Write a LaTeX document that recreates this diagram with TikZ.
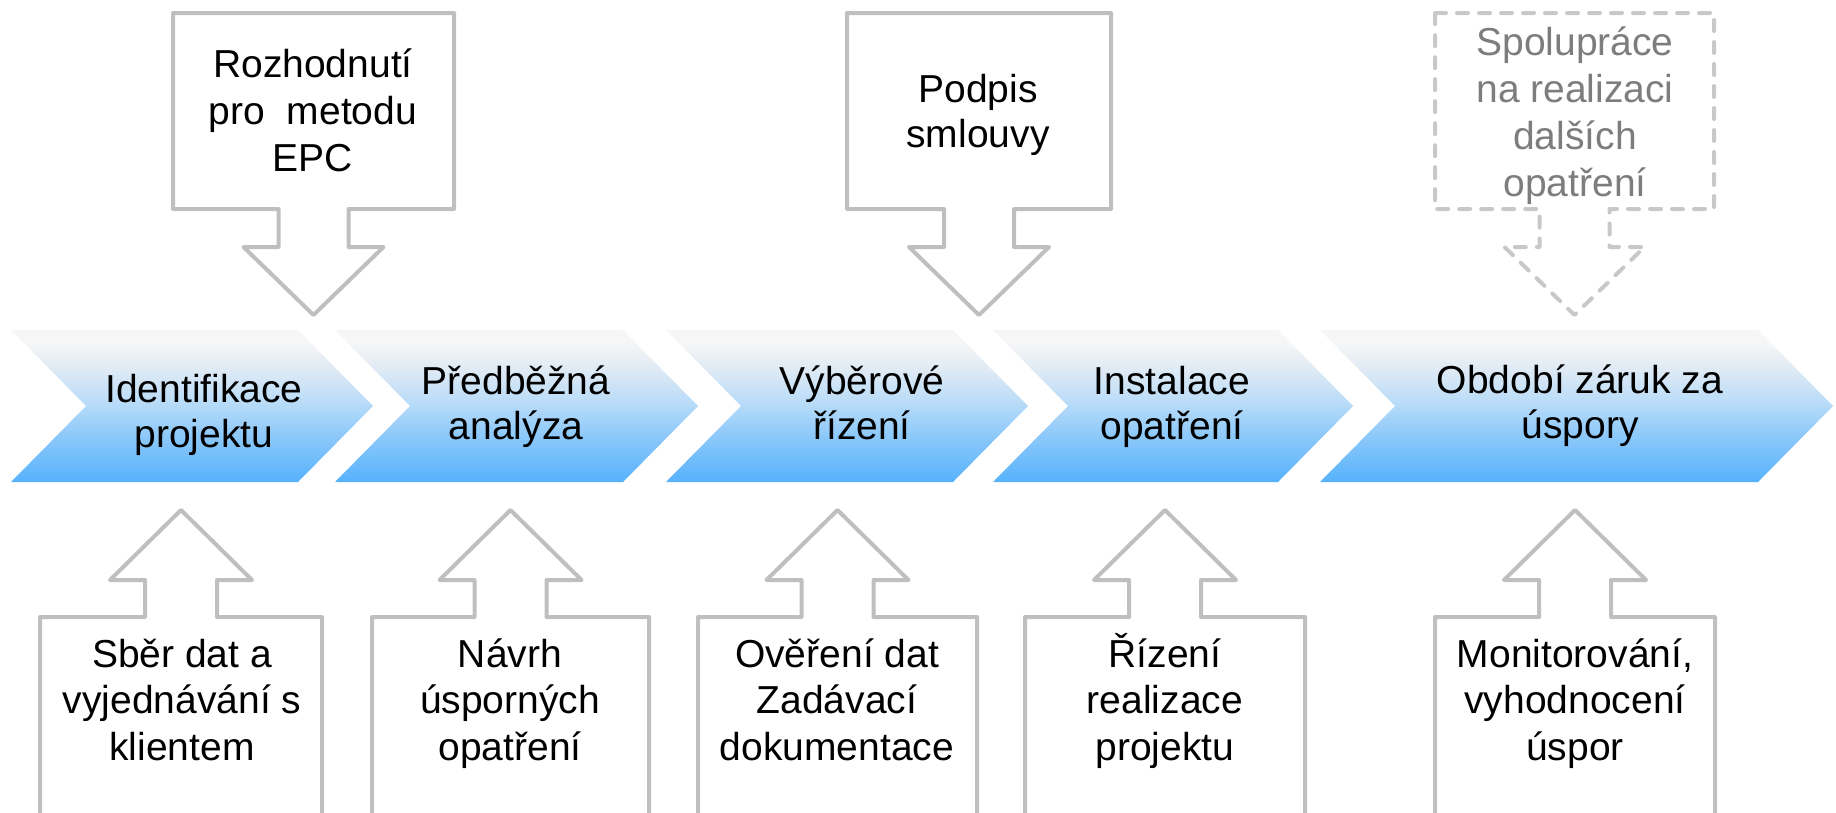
\documentclass[tikz,border=0pt]{standalone}
\usepackage{fontspec}
\setmainfont{Liberation Sans}
\definecolor{lg}{RGB}{191,191,191}
\definecolor{dg}{RGB}{200,200,200}
\definecolor{dtext}{RGB}{125,125,125}
\definecolor{cb}{RGB}{86,178,252}
\definecolor{c2}{RGB}{140,200,250}
\definecolor{c3}{RGB}{188,221,248}
\definecolor{c4}{RGB}{226,235,244}
\definecolor{ct}{RGB}{246,246,246}
\pgfdeclareverticalshading{chevshade}{100bp}{color(0bp)=(cb); color(25bp)=(cb); color(40bp)=(c2); color(52bp)=(c3); color(63bp)=(c4); color(71bp)=(ct); color(100bp)=(ct)}
\newcommand\topcall[3]{%
  \draw[#3] ({#1-#2},13) -- ({#1+#2},13) -- ({#1+#2},209) -- ({#1+35},209) -- ({#1+35},247) -- ({#1+70},247) -- (#1,315) -- ({#1-70},247) -- ({#1-35},247) -- ({#1-35},209) -- ({#1-#2},209) -- cycle;}
\newcommand\botcall[2]{%
  \draw[callout] ({#1-#2},840) -- ({#1-#2},617) -- ({#1-36},617) -- ({#1-36},580) -- ({#1-71},580) -- (#1,510) -- ({#1+71},580) -- ({#1+36},580) -- ({#1+36},617) -- ({#1+#2},617) -- ({#1+#2},840);}
\newcommand\chevron[2]{%
  \path[chev] (#1,330) -- (#2,330) -- ({#2+75},406) -- (#2,482) -- (#1,482) -- ({#1+75},406) -- cycle;}
\begin{document}
\begin{tikzpicture}[x=1pt,y=-1pt,
  lbl/.style={font=\fontsize{39}{#1}\selectfont, align=center, anchor=base, inner sep=0pt, text=black},
  lbl/.default=45,
  callout/.style={draw=lg, line width=4pt, line join=round},
  dcallout/.style={draw=dg, line width=4pt, line cap=round, line join=round, dash pattern=on 11pt off 11pt},
  chev/.style={shading=chevshade}]
\useasboundingbox (0,0) rectangle (1836,812);
\clip (0,0) rectangle (1836,812);
% chevrons
\chevron{11}{298}
\chevron{335}{623}
\chevron{666}{953}
\chevron{993}{1278}
\chevron{1320}{1758}
\node[lbl] (s1) at (204,447) {Identifikace\\projektu};
\node[lbl] (s2) at (516,439) {Předběžná\\analýza};
\node[lbl] (s3) at (862,439) {Výběrové\\řízení};
\node[lbl] (s4) at (1172,439) {Instalace\\opatření};
\node[lbl] (s5) at (1580,438) {Období záruk za\\úspory};
% top callouts
\topcall{313.5}{140.5}{callout}
\topcall{979}{132}{callout}
\topcall{1574.5}{139.5}{dcallout}
\node[lbl=47] (t1) at (313,171) {Rozhodnutí\\pro~ metodu\\EPC};
\node[lbl=45] (t2) at (978,147) {Podpis\\smlouvy};
\node[lbl=47, text=dtext] (t3) at (1575,196) {Spolupráce\\na realizaci\\dalších\\opatření};
% bottom callouts
\botcall{181}{141}
\botcall{510.5}{138.5}
\botcall{837.5}{139.5}
\botcall{1165}{140}
\botcall{1575}{140}
\node[lbl=46.5] (b1) at (182,760) {Sběr dat a\\vyjednávání s\\klientem};
\node[lbl=46.5] (b2) at (510,760) {Návrh\\úsporných\\opatření};
\node[lbl=46.5] (b3) at (837,760) {Ověření dat\\Zadávací\\dokumentace};
\node[lbl=46.5] (b4) at (1165,760) {Řízení\\realizace\\projektu};
\node[lbl=46.5] (b5) at (1575,760) {Monitorování,\\vyhodnocení\\úspor};
\end{tikzpicture}
\end{document}
